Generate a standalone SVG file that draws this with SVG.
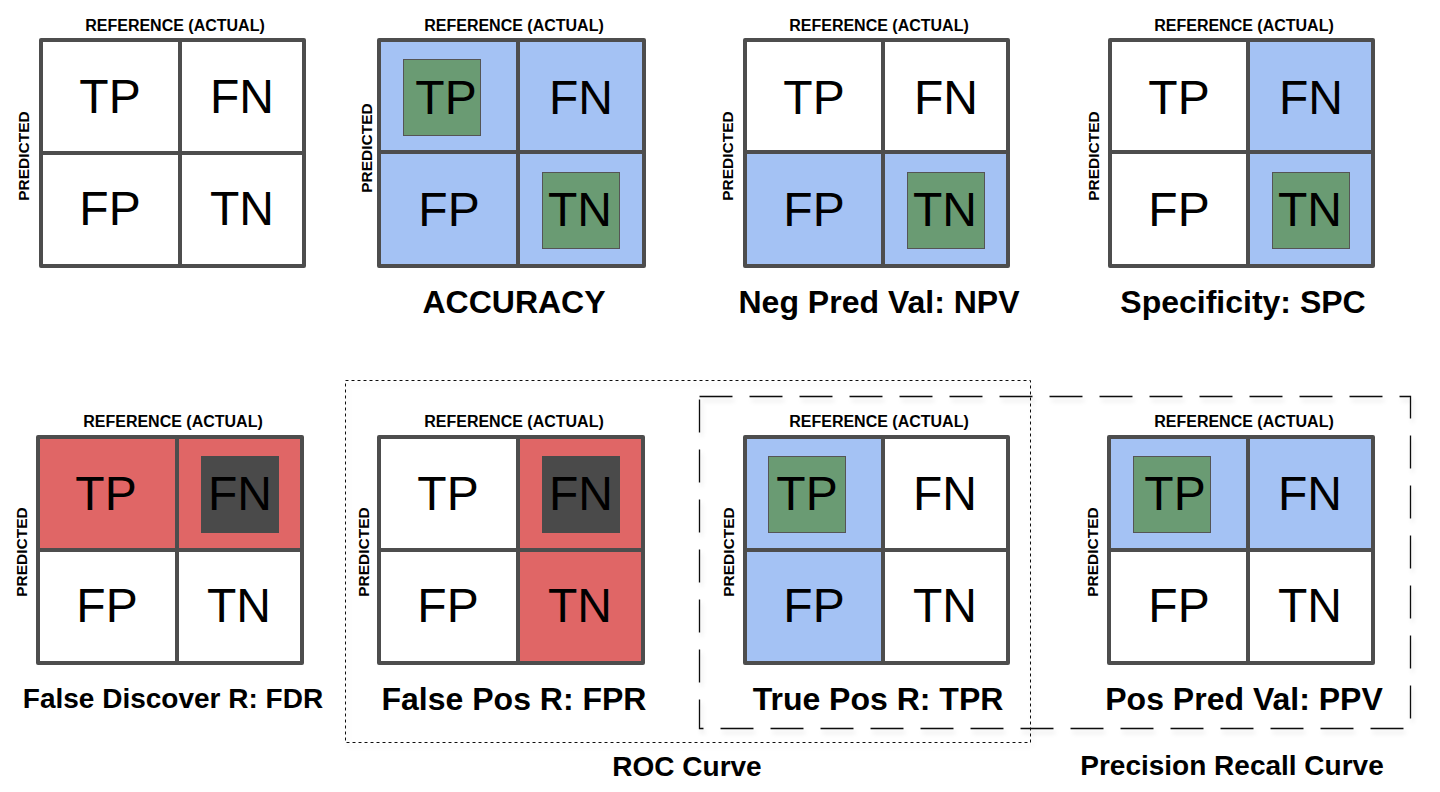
<svg xmlns="http://www.w3.org/2000/svg" width="1440" height="792" viewBox="0 0 1440 792">
<defs>
<style>
.grid{fill:none;stroke:#4d4d4d;stroke-width:4;stroke-linejoin:round;stroke-linecap:round}
.w{fill:#ffffff}
.b{fill:#a4c2f4}
.r{fill:#e06666}
.g{fill:#6a9b73;stroke:#555555;stroke-width:1}
.d{fill:#4a4a4a}
.cell{font-family:"Liberation Sans",Arial,sans-serif;font-size:48px;fill:#000;text-anchor:middle}
.ref{font-family:"Liberation Sans",Arial,sans-serif;font-size:16px;font-weight:bold;fill:#000;text-anchor:middle}
.pred{font-family:"Liberation Sans",Arial,sans-serif;font-size:15.5px;font-weight:bold;fill:#000;text-anchor:middle}
.title{font-family:"Liberation Sans",Arial,sans-serif;font-size:32px;font-weight:bold;fill:#000;text-anchor:middle}
.cap{font-family:"Liberation Sans",Arial,sans-serif;font-size:28px;font-weight:bold;fill:#000;text-anchor:middle}
.dotbox{fill:none;stroke:#111;stroke-width:1;stroke-dasharray:3 3}
.dashbox{fill:none;stroke:#111;stroke-width:1.3;stroke-dasharray:33 17}
</style>
<filter id="sh" x="-5%" y="-5%" width="110%" height="115%">
<feDropShadow dx="2" dy="4" stdDeviation="2" flood-color="#000" flood-opacity="0.12"/>
</filter>
</defs>
<rect width="1440" height="792" fill="#ffffff"/>

<g id="connectors">
<g id="roc-group">
<rect class="dotbox" x="345.5" y="380.5" width="685" height="362" filter="url(#sh)"/>
<text class="cap" x="687" y="776">ROC Curve</text>
</g>
<g id="pr-group">
<rect class="dashbox" x="699.5" y="396.5" width="711" height="332" filter="url(#sh)"/>
<text class="cap" x="1232" y="775">Precision Recall Curve</text>
</g>
</g>

<g id="m-base">
<text class="ref" x="175" y="31">REFERENCE (ACTUAL)</text>
<text class="pred" transform="translate(29,156) rotate(-90)">PREDICTED</text>
<rect class="w" x="41" y="40" width="263" height="226"/>
<path class="grid" d="M41 40H304V266H41Z M180 40V266 M41 153H304"/>
<text class="cell" x="110" y="113">TP</text>
<text class="cell" x="242" y="113">FN</text>
<text class="cell" x="110" y="225">FP</text>
<text class="cell" x="242" y="225">TN</text>
</g>

<g id="m-accuracy">
<text class="ref" x="514" y="31">REFERENCE (ACTUAL)</text>
<text class="pred" transform="translate(372,148) rotate(-90)">PREDICTED</text>
<rect class="b" x="379" y="40" width="265" height="226"/>
<rect class="g" x="403.5" y="59.5" width="77" height="76"/>
<rect class="g" x="542.5" y="172.5" width="77" height="76"/>
<path class="grid" d="M379 40H644V266H379Z M518 40V266 M379 152H644"/>
<text class="cell" x="446" y="114">TP</text>
<text class="cell" x="581" y="114">FN</text>
<text class="cell" x="449" y="226">FP</text>
<text class="cell" x="580" y="226">TN</text>
<text class="title" x="514" y="313">ACCURACY</text>
</g>

<g id="m-npv">
<text class="ref" x="879" y="31">REFERENCE (ACTUAL)</text>
<text class="pred" transform="translate(733,156) rotate(-90)">PREDICTED</text>
<rect class="w" x="745" y="40" width="263" height="112"/>
<rect class="b" x="745" y="152" width="263" height="114"/>
<rect class="g" x="907.5" y="172.5" width="77" height="76"/>
<path class="grid" d="M745 40H1008V266H745Z M883 40V266 M745 152H1008"/>
<text class="cell" x="814" y="114">TP</text>
<text class="cell" x="946" y="114">FN</text>
<text class="cell" x="814" y="226">FP</text>
<text class="cell" x="945" y="226">TN</text>
<text class="title" x="879" y="313">Neg Pred Val: NPV</text>
</g>

<g id="m-spc">
<text class="ref" x="1244" y="31">REFERENCE (ACTUAL)</text>
<text class="pred" transform="translate(1099,156) rotate(-90)">PREDICTED</text>
<rect class="w" x="1110" y="40" width="138" height="226"/>
<rect class="b" x="1248" y="40" width="125" height="226"/>
<rect class="g" x="1272.5" y="172.5" width="77" height="76"/>
<path class="grid" d="M1110 40H1373V266H1110Z M1248 40V266 M1110 152H1373"/>
<text class="cell" x="1179" y="114">TP</text>
<text class="cell" x="1311" y="114">FN</text>
<text class="cell" x="1179" y="226">FP</text>
<text class="cell" x="1310" y="226">TN</text>
<text class="title" x="1243" y="313">Specificity: SPC</text>
</g>

<g id="m-fdr">
<text class="ref" x="173" y="427">REFERENCE (ACTUAL)</text>
<text class="pred" transform="translate(27,552) rotate(-90)">PREDICTED</text>
<rect class="r" x="38" y="437" width="264" height="113"/>
<rect class="w" x="38" y="550" width="264" height="113"/>
<rect class="d" x="201" y="456" width="78" height="77"/>
<path class="grid" d="M38 437H302V663H38Z M177 437V663 M38 550H302"/>
<text class="cell" x="106" y="510">TP</text>
<text class="cell" x="240" y="510">FN</text>
<text class="cell" x="107" y="622">FP</text>
<text class="cell" x="239" y="622">TN</text>
<text class="cap" x="173" y="708">False Discover R: FDR</text>
</g>

<g id="m-fpr">
<text class="ref" x="514" y="427">REFERENCE (ACTUAL)</text>
<text class="pred" transform="translate(369,552) rotate(-90)">PREDICTED</text>
<rect class="w" x="379" y="437" width="139" height="226"/>
<rect class="r" x="518" y="437" width="125" height="226"/>
<rect class="d" x="542" y="456" width="78" height="77"/>
<path class="grid" d="M379 437H643V663H379Z M518 437V663 M379 550H643"/>
<text class="cell" x="448" y="510">TP</text>
<text class="cell" x="581" y="510">FN</text>
<text class="cell" x="448" y="622">FP</text>
<text class="cell" x="580" y="622">TN</text>
<text class="title" x="514" y="710">False Pos R: FPR</text>
</g>

<g id="m-tpr">
<text class="ref" x="879" y="427">REFERENCE (ACTUAL)</text>
<text class="pred" transform="translate(734,552) rotate(-90)">PREDICTED</text>
<rect class="b" x="745" y="437" width="138" height="226"/>
<rect class="w" x="883" y="437" width="125" height="226"/>
<rect class="g" x="768.5" y="456.5" width="77" height="76"/>
<path class="grid" d="M745 437H1008V663H745Z M883 437V663 M745 550H1008"/>
<text class="cell" x="807" y="510">TP</text>
<text class="cell" x="945" y="510">FN</text>
<text class="cell" x="814" y="622">FP</text>
<text class="cell" x="945" y="622">TN</text>
<text class="title" x="878" y="710">True Pos R: TPR</text>
</g>

<g id="m-ppv">
<text class="ref" x="1244" y="427">REFERENCE (ACTUAL)</text>
<text class="pred" transform="translate(1098,552) rotate(-90)">PREDICTED</text>
<rect class="b" x="1109" y="437" width="264" height="113"/>
<rect class="w" x="1109" y="550" width="264" height="113"/>
<rect class="g" x="1133.5" y="456.5" width="77" height="76"/>
<path class="grid" d="M1109 437H1373V663H1109Z M1248 437V663 M1109 550H1373"/>
<text class="cell" x="1175" y="510">TP</text>
<text class="cell" x="1310" y="510">FN</text>
<text class="cell" x="1179" y="622">FP</text>
<text class="cell" x="1310" y="622">TN</text>
<text class="title" x="1244" y="710">Pos Pred Val: PPV</text>
</g>
</svg>
